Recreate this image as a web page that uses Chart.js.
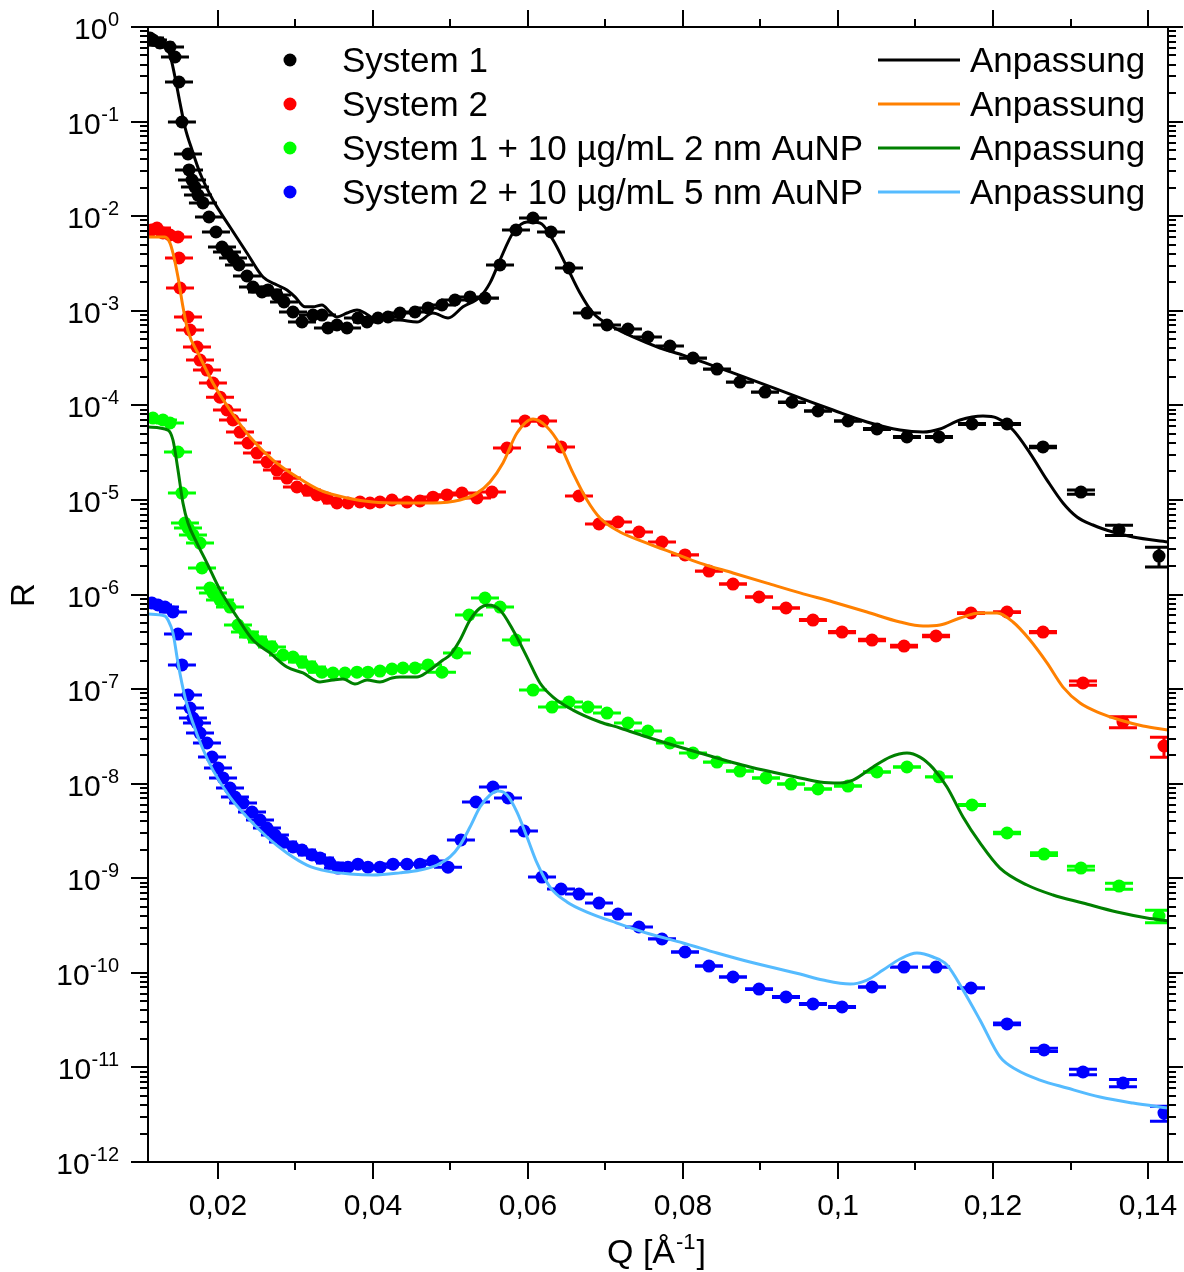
<!DOCTYPE html>
<html>
<head>
<meta charset="utf-8">
<script src="https://cdn.jsdelivr.net/npm/chart.js@4.4.1/dist/chart.umd.min.js"></script>
<style>
  html, body { margin: 0; padding: 0; background: #fff; }
  #wrap { width: 1184px; height: 1272px; position: relative; }
</style>
</head>
<body>
<div id="wrap"><canvas id="chartR"></canvas></div>
<script>
// measured reflectivity [Q, R]
const sys1 = [
  [0.01123, 0.765], [0.01161, 0.73], [0.01252, 0.677], [0.01381, 0.614], [0.01445, 0.482],
  [0.01497, 0.262], [0.01535, 0.099], [0.01613, 0.0454], [0.01626, 0.0308], [0.01665, 0.0241],
  [0.01703, 0.0203], [0.01742, 0.0167], [0.01806, 0.0138], [0.01884, 0.0098], [0.01974, 0.0068],
  [0.02052, 0.00472], [0.02116, 0.00418], [0.02194, 0.00361], [0.02271, 0.00305], [0.02374, 0.00233],
  [0.02452, 0.00178], [0.02568, 0.00158], [0.02645, 0.00166], [0.02761, 0.00147], [0.02852, 0.00124],
  [0.02968, 0.00097], [0.03084, 0.00076], [0.03226, 0.0009], [0.03342, 0.0009], [0.03419, 0.000657],
  [0.03535, 0.000707], [0.03665, 0.000657], [0.03806, 0.000838], [0.03923, 0.00076], [0.04065, 0.000838],
  [0.04194, 0.000859], [0.04348, 0.000946], [0.04542, 0.00097], [0.0471, 0.00107], [0.0489, 0.00115],
  [0.05058, 0.0013], [0.05252, 0.0014], [0.05445, 0.00136], [0.05639, 0.00305], [0.05845, 0.00714],
  [0.06065, 0.00956], [0.06297, 0.0068], [0.06529, 0.00283], [0.06761, 0.000946], [0.07019, 0.000707],
  [0.0729, 0.000641], [0.07548, 0.000528], [0.07832, 0.000424], [0.08129, 0.000316], [0.08439, 0.000242],
  [0.08735, 0.000176], [0.09058, 0.000138], [0.09406, 0.000108], [0.09742, 8.71e-5], [0.10129, 6.83e-5],
  [0.10503, 5.62e-5], [0.1089, 4.63e-5], [0.11303, 4.63e-5], [0.11729, 6.35e-5], [0.12181, 6.35e-5],
  [0.12645, 3.63e-5], [0.13135, 1.21e-5], [0.13626, 4.81e-6], [0.14142, 2.55e-6]
];
const sys2 = [
  [0.01148, 0.00714], [0.01213, 0.0075], [0.0129, 0.00664], [0.01381, 0.00632], [0.01484, 0.00602],
  [0.01497, 0.00361], [0.0151, 0.00174], [0.01613, 0.000859], [0.01639, 0.000626], [0.01729, 0.000414],
  [0.01768, 0.000301], [0.01858, 0.000236], [0.01935, 0.000172], [0.02026, 0.000122], [0.02116, 8.92e-5],
  [0.02194, 7.0e-5], [0.02284, 5.22e-5], [0.02387, 4.0e-5], [0.02503, 3.13e-5], [0.02632, 2.52e-5],
  [0.02761, 2.07e-5], [0.0289, 1.70e-5], [0.03019, 1.37e-5], [0.03148, 1.27e-5], [0.03277, 1.13e-5],
  [0.03406, 1.05e-5], [0.03535, 9.28e-6], [0.03677, 9.28e-6], [0.03832, 9.5e-6], [0.03961, 9.28e-6],
  [0.0409, 9.5e-6], [0.04245, 9.98e-6], [0.04439, 9.5e-6], [0.04606, 9.74e-6], [0.04774, 1.07e-5],
  [0.04955, 1.13e-5], [0.05148, 1.18e-5], [0.05342, 1.05e-5], [0.05535, 1.21e-5], [0.05729, 3.54e-5],
  [0.05961, 6.83e-5], [0.06194, 6.83e-5], [0.06426, 3.63e-5], [0.06658, 1.10e-5], [0.06916, 5.56e-6],
  [0.07161, 5.84e-6], [0.07432, 4.58e-6], [0.07729, 3.59e-6], [0.08026, 2.62e-6], [0.08335, 1.77e-6],
  [0.08645, 1.29e-6], [0.08981, 9.41e-7], [0.09329, 7.20e-7], [0.09677, 5.37e-7], [0.10052, 4.01e-7],
  [0.10439, 3.30e-7], [0.10852, 2.85e-7], [0.11265, 3.64e-7], [0.11716, 6.37e-7], [0.12181, 6.53e-7],
  [0.12645, 4.01e-7], [0.13161, 1.16e-7], [0.13677, 4.49e-8], [0.14206, 2.50e-8]
];
const sys1Au = [
  [0.01161, 7.34e-5], [0.0129, 7.0e-5], [0.01381, 6.50e-5], [0.01484, 3.21e-5], [0.01535, 1.18e-5],
  [0.01574, 5.70e-6], [0.01613, 5.05e-6], [0.01677, 4.26e-6], [0.01768, 3.50e-6], [0.01794, 1.91e-6],
  [0.01897, 1.17e-6], [0.01935, 1.04e-6], [0.02026, 8.74e-7], [0.02155, 7.37e-7], [0.02258, 4.76e-7],
  [0.02348, 4.01e-7], [0.02452, 3.55e-7], [0.02568, 3.15e-7], [0.02697, 2.78e-7], [0.02839, 2.29e-7],
  [0.02968, 2.18e-7], [0.03084, 1.93e-7], [0.03213, 1.71e-7], [0.03342, 1.51e-7], [0.03484, 1.48e-7],
  [0.03639, 1.48e-7], [0.03794, 1.51e-7], [0.03935, 1.51e-7], [0.0409, 1.55e-7], [0.04245, 1.63e-7],
  [0.04387, 1.67e-7], [0.04542, 1.67e-7], [0.0471, 1.80e-7], [0.0489, 1.51e-7], [0.05084, 2.41e-7],
  [0.05239, 6.07e-7], [0.05445, 9.18e-7], [0.05639, 7.37e-7], [0.05845, 3.30e-7], [0.06065, 9.77e-8],
  [0.0631, 6.46e-8], [0.06529, 7.30e-8], [0.06774, 6.46e-8], [0.07019, 5.58e-8], [0.0729, 4.38e-8],
  [0.07548, 3.60e-8], [0.07832, 2.69e-8], [0.08129, 2.11e-8], [0.08439, 1.69e-8], [0.08735, 1.36e-8],
  [0.09071, 1.15e-8], [0.09394, 9.91e-9], [0.09742, 8.78e-9], [0.10129, 9.44e-9], [0.10503, 1.33e-8],
  [0.1089, 1.50e-8], [0.11303, 1.18e-8], [0.11729, 5.95e-9], [0.12181, 3.01e-9], [0.12658, 1.80e-9],
  [0.13135, 1.28e-9], [0.13626, 8.27e-10], [0.14142, 3.99e-10]
];
const sys2Au = [
  [0.01148, 8.13e-7], [0.01226, 7.74e-7], [0.01316, 7.37e-7], [0.01419, 6.53e-7], [0.01484, 3.82e-7],
  [0.01535, 1.80e-7], [0.01613, 8.65e-8], [0.01639, 6.31e-8], [0.01677, 4.94e-8], [0.01729, 4.38e-8],
  [0.01768, 3.43e-8], [0.01858, 2.69e-8], [0.01923, 1.91e-8], [0.02, 1.46e-8], [0.02065, 1.15e-8],
  [0.02155, 8.99e-9], [0.02219, 7.22e-9], [0.02323, 6.24e-9], [0.02439, 5.01e-9], [0.02542, 4.13e-9],
  [0.02632, 3.40e-9], [0.02735, 2.86e-9], [0.02839, 2.42e-9], [0.02968, 2.14e-9], [0.03084, 1.99e-9],
  [0.03213, 1.76e-9], [0.03316, 1.64e-9], [0.03445, 1.45e-9], [0.03548, 1.28e-9], [0.03677, 1.31e-9],
  [0.03806, 1.41e-9], [0.03935, 1.31e-9], [0.0409, 1.31e-9], [0.04258, 1.41e-9], [0.04439, 1.41e-9],
  [0.04606, 1.41e-9], [0.04774, 1.52e-9], [0.04968, 1.31e-9], [0.05135, 2.54e-9], [0.05329, 6.40e-9],
  [0.05548, 9.21e-9], [0.05742, 7.05e-9], [0.05948, 3.16e-9], [0.06181, 1.03e-9], [0.06426, 7.69e-10],
  [0.06658, 6.81e-10], [0.06916, 5.47e-10], [0.07161, 4.18e-10], [0.07432, 3.05e-10], [0.07729, 2.28e-10],
  [0.08026, 1.66e-10], [0.08335, 1.18e-10], [0.08645, 9.03e-11], [0.08981, 6.74e-11], [0.09329, 5.55e-11],
  [0.09677, 4.68e-11], [0.10052, 4.35e-11], [0.10439, 7.08e-11], [0.10852, 1.15e-10], [0.11265, 1.15e-10],
  [0.11716, 6.91e-11], [0.12181, 2.88e-11], [0.12658, 1.53e-11], [0.13161, 8.94e-12], [0.13677, 6.84e-12],
  [0.14206, 3.29e-12]
];
// absolute error of R, one per series
const errR = [6e-7, 6e-9, 6e-11, 6e-13];

// fitted curves [Q, R]
const fit1 = [
  [0.01097, 0.645], [0.01316, 0.614], [0.01381, 0.506], [0.01445, 0.296], [0.0151, 0.157],
  [0.01574, 0.0876], [0.01665, 0.0501], [0.01768, 0.0286], [0.01935, 0.0148], [0.02155, 0.00768],
  [0.02374, 0.00408], [0.02581, 0.00227], [0.02761, 0.00187], [0.0289, 0.00166], [0.02994, 0.0014],
  [0.03123, 0.0011], [0.03226, 0.0011], [0.03342, 0.00115], [0.03445, 0.00097], [0.03535, 0.000859],
  [0.03665, 0.000946], [0.03794, 0.00102], [0.03897, 0.000946], [0.04, 0.000838], [0.04348, 0.000798],
  [0.04568, 0.00076], [0.04774, 0.000946], [0.04968, 0.000838], [0.05161, 0.0011], [0.05381, 0.0014],
  [0.0551, 0.00197], [0.05639, 0.00344], [0.05806, 0.00664], [0.05987, 0.00868], [0.06155, 0.00847],
  [0.06323, 0.0056], [0.06503, 0.0029], [0.06671, 0.00154], [0.06839, 0.000946], [0.07097, 0.000673],
  [0.07355, 0.000528], [0.07703, 0.000404], [0.08, 0.00034], [0.08645, 0.00022], [0.0951, 0.00012],
  [0.09935, 8.92e-5], [0.10374, 6.66e-5], [0.108, 5.48e-5], [0.11097, 5.22e-5], [0.11316, 5.62e-5],
  [0.11574, 7.0e-5], [0.11871, 7.71e-5], [0.12052, 7.34e-5], [0.12258, 5.48e-5], [0.12477, 3.13e-5],
  [0.12697, 1.62e-5], [0.12903, 9.28e-6], [0.13084, 6.6e-6], [0.1329, 5.43e-6], [0.13548, 4.58e-6],
  [0.13806, 4.05e-6], [0.14258, 3.59e-6]
];
const fit2 = [
  [0.01097, 6.02e-3], [0.01316, 6.02e-3], [0.01381, 5.20e-3], [0.01419, 4.08e-3], [0.01484, 2.27e-3],
  [0.01548, 1.10e-3], [0.01613, 6.1e-4], [0.01768, 3.24e-4], [0.01935, 1.72e-4], [0.02155, 8.92e-5],
  [0.02413, 4.63e-5], [0.0271, 2.64e-5], [0.03019, 1.75e-5], [0.03316, 1.27e-5], [0.03665, 1.05e-5],
  [0.04, 9.5e-6], [0.04348, 9.28e-6], [0.04774, 9.28e-6], [0.05123, 9.98e-6], [0.05342, 1.18e-5],
  [0.0551, 1.55e-5], [0.05677, 2.46e-5], [0.05858, 5.10e-5], [0.06065, 7.17e-5], [0.06245, 5.90e-5],
  [0.06413, 3.81e-5], [0.06581, 1.92e-5], [0.06761, 9.98e-6], [0.06929, 6.44e-6], [0.07187, 4.58e-6],
  [0.07535, 3.50e-6], [0.07871, 2.75e-6], [0.08219, 2.15e-6], [0.08645, 1.69e-6], [0.09084, 1.32e-6],
  [0.0951, 1.04e-6], [0.09935, 8.33e-7], [0.10374, 6.53e-7], [0.108, 5.12e-7], [0.11097, 4.64e-7],
  [0.11316, 4.76e-7], [0.11574, 5.64e-7], [0.11832, 6.37e-7], [0.12052, 6.37e-7], [0.12258, 5.12e-7],
  [0.12477, 3.30e-7], [0.12697, 1.89e-7], [0.12903, 1.05e-7], [0.13123, 7.12e-8], [0.13381, 5.58e-8],
  [0.13639, 4.71e-8], [0.13935, 4.07e-8], [0.14258, 3.7e-8]
];
const fit3 = [
  [0.01097, 5.90e-5], [0.01355, 5.48e-5], [0.01419, 4.30e-5], [0.01484, 2.07e-5], [0.01548, 9.28e-6],
  [0.01613, 5.70e-6], [0.01729, 3.50e-6], [0.01858, 2.15e-6], [0.02026, 1.12e-6], [0.02245, 5.78e-7],
  [0.02452, 3.30e-7], [0.02671, 2.41e-7], [0.0289, 1.71e-7], [0.03097, 1.48e-7], [0.03316, 1.19e-7],
  [0.03484, 1.25e-7], [0.03613, 1.28e-7], [0.03768, 1.13e-7], [0.03923, 1.25e-7], [0.0409, 1.19e-7],
  [0.04245, 1.31e-7], [0.04348, 1.34e-7], [0.04568, 1.34e-7], [0.04697, 1.51e-7], [0.04903, 2.03e-7],
  [0.04994, 2.29e-7], [0.05123, 3.30e-7], [0.05252, 5.37e-7], [0.05381, 7.20e-7], [0.05484, 7.74e-7],
  [0.05639, 6.85e-7], [0.05806, 4.21e-7], [0.05987, 2.18e-7], [0.06155, 1.16e-7], [0.06323, 8.24e-8],
  [0.06581, 6.00e-8], [0.06929, 4.49e-8], [0.07187, 3.88e-8], [0.07574, 3.04e-8], [0.08219, 2.11e-8],
  [0.08865, 1.50e-8], [0.0951, 1.15e-8], [0.09768, 1.04e-8], [0.10026, 1.016e-8], [0.10194, 1.09e-8],
  [0.10452, 1.50e-8], [0.10671, 1.91e-8], [0.1089, 2.11e-8], [0.11058, 1.91e-8], [0.11226, 1.46e-8],
  [0.11406, 9.21e-9], [0.11613, 4.44e-9], [0.11832, 2.36e-9], [0.1209, 1.28e-9], [0.12439, 8.48e-10],
  [0.12774, 6.65e-10], [0.13161, 5.47e-10], [0.136, 4.39e-10], [0.13987, 3.80e-10], [0.14258, 3.55e-10]
];
const fit4 = [
  [0.01097, 6.22e-7], [0.01316, 5.92e-7], [0.01355, 5.37e-7], [0.01419, 3.92e-7], [0.01484, 1.89e-7],
  [0.01574, 8.24e-8], [0.01677, 4.38e-8], [0.01794, 2.44e-8], [0.01935, 1.39e-8], [0.02155, 7.22e-9],
  [0.02374, 4.44e-9], [0.02632, 2.73e-9], [0.0289, 1.85e-9], [0.03148, 1.38e-9], [0.03406, 1.19e-9],
  [0.03703, 1.11e-9], [0.04, 1.08e-9], [0.04348, 1.14e-9], [0.04606, 1.22e-9], [0.04826, 1.38e-9],
  [0.04994, 1.68e-9], [0.05123, 2.24e-9], [0.05252, 3.48e-9], [0.05381, 5.66e-9], [0.0551, 7.59e-9],
  [0.05613, 8.36e-9], [0.05729, 7.59e-9], [0.05858, 5.01e-9], [0.05987, 2.73e-9], [0.06116, 1.45e-9],
  [0.06284, 8.07e-10], [0.06503, 5.61e-10], [0.06761, 4.39e-10], [0.07148, 3.36e-10], [0.07574, 2.57e-10],
  [0.08, 2.07e-10], [0.08439, 1.62e-10], [0.08865, 1.30e-10], [0.0951, 9.71e-11], [0.09806, 8.39e-11],
  [0.10155, 7.61e-11], [0.10374, 8.39e-11], [0.10581, 1.07e-10], [0.108, 1.40e-10], [0.11019, 1.62e-10],
  [0.11226, 1.47e-10], [0.11406, 1.21e-10], [0.11613, 6.58e-11], [0.11832, 3.17e-11], [0.1209, 1.29e-11],
  [0.1231, 9.38e-12], [0.12606, 7.35e-12], [0.12955, 6.05e-12], [0.13381, 4.86e-12], [0.13806, 4.20e-12],
  [0.14258, 3.72e-12]
];

const seriesNames = ['System 1', 'System 2', 'System 1 + 10 µg/mL 2 nm AuNP', 'System 2 + 10 µg/mL 5 nm AuNP'];
const fitName = 'Anpassung';
const xMajor = [0.02, 0.04, 0.06, 0.08, 0.1, 0.12, 0.14];
const xMajorLabels = ['0,02', '0,04', '0,06', '0,08', '0,1', '0,12', '0,14'];
const xMinor = [0.03, 0.05, 0.07, 0.09, 0.11, 0.13];
const yExponents = [0, -1, -2, -3, -4, -5, -6, -7, -8, -9, -10, -11, -12];

const pointColors = ['#000000', '#ff0000', '#00ff00', '#0000ff'];
const fitColors = ['#000000', '#ff8000', '#008000', '#55bbff'];
const FONT = '"Liberation Sans", Arial, sans-serif';

const toXY = arr => arr.map(p => ({ x: p[0], y: p[1] }));
const measured = [sys1, sys2, sys1Au, sys2Au];
const fits = [fit1, fit2, fit3, fit4];

const datasets = [];
fits.forEach((f, i) => datasets.push({
  label: fitName, data: toXY(f), showLine: true, pointRadius: 0,
  borderColor: fitColors[i], borderWidth: 3, cubicInterpolationMode: 'monotone', order: 0
}));
measured.forEach((m, i) => datasets.push({
  label: seriesNames[i], data: toXY(m), showLine: false, pointRadius: 6.5, pointBorderWidth: 0,
  backgroundColor: pointColors[i], borderColor: pointColors[i], errR: errR[i], order: 1
}));

// y error bars with wide caps (drawn under the markers)
const errorBars = {
  id: 'errorBars',
  beforeDatasetsDraw(chart) {
    const { ctx, chartArea: a, scales: { x, y } } = chart;
    ctx.save();
    ctx.beginPath();
    ctx.rect(a.left, a.top, a.right - a.left, a.bottom - a.top);
    ctx.clip();
    ctx.lineWidth = 3;
    chart.data.datasets.forEach(ds => {
      if (ds.errR === undefined) return;
      ctx.strokeStyle = ds.borderColor;
      ds.data.forEach(p => {
        const px = x.getPixelForValue(p.x);
        const y1 = y.getPixelForValue(p.y + ds.errR);
        const y2 = y.getPixelForValue(Math.max(p.y - ds.errR, 1e-15));
        ctx.beginPath();
        ctx.moveTo(px, y1); ctx.lineTo(px, y2);
        ctx.moveTo(px - 14, y1); ctx.lineTo(px + 14, y1);
        ctx.moveTo(px - 14, y2); ctx.lineTo(px + 14, y2);
        ctx.stroke();
      });
    });
    ctx.restore();
  }
};

// frame, ticks on four sides, labels, titles, legend
const frame = {
  id: 'frame',
  afterDraw(chart) {
    const { ctx, chartArea: a, scales: { x, y } } = chart;
    ctx.save();
    ctx.strokeStyle = '#000';
    ctx.fillStyle = '#000';
    ctx.lineWidth = 2;
    ctx.strokeRect(a.left, a.top, a.right - a.left, a.bottom - a.top);

    const seg = (x1, y1, x2, y2) => { ctx.beginPath(); ctx.moveTo(x1, y1); ctx.lineTo(x2, y2); ctx.stroke(); };

    xMajor.forEach(q => {
      const px = Math.round(x.getPixelForValue(q));
      seg(px, a.bottom, px, a.bottom + 17);
      seg(px, a.top, px, a.top - 17);
    });
    xMinor.forEach(q => {
      const px = Math.round(x.getPixelForValue(q));
      seg(px, a.bottom, px, a.bottom + 8);
      seg(px, a.top, px, a.top - 8);
    });
    yExponents.forEach(e => {
      const py = Math.round(y.getPixelForValue(Math.pow(10, e)));
      seg(a.left, py, a.left - 17, py);
      seg(a.right, py, a.right + 15, py);
      if (e < 0) {
        for (let m = 2; m <= 9; m++) {
          const pm = Math.round(y.getPixelForValue(m * Math.pow(10, e)));
          seg(a.left, pm, a.left - 8, pm);
          seg(a.right, pm, a.right + 8, pm);
        }
      }
    });

    // x tick labels
    ctx.font = '30px ' + FONT;
    ctx.textAlign = 'center';
    ctx.textBaseline = 'alphabetic';
    xMajor.forEach((q, i) => ctx.fillText(xMajorLabels[i], x.getPixelForValue(q), a.bottom + 53));

    // y tick labels 10^e
    const xr = 119;
    yExponents.forEach(e => {
      const py = y.getPixelForValue(Math.pow(10, e));
      const sup = e === 0 ? '0' : '-' + Math.abs(e);
      ctx.font = '20px ' + FONT;
      const w = ctx.measureText(sup).width;
      ctx.textAlign = 'left';
      ctx.fillText(sup, xr - w, py - 1);
      ctx.font = '30px ' + FONT;
      ctx.textAlign = 'right';
      ctx.fillText('10', xr - w - 0.5, py + 12);
    });

    // axis titles
    ctx.font = '34px ' + FONT;
    ctx.textAlign = 'left';
    let tx = 607;
    const ty = 1263;
    ctx.fillText('Q [Å', tx, ty);
    tx += ctx.measureText('Q [Å').width;
    ctx.font = '22px ' + FONT;
    ctx.fillText('-1', tx + 1, ty - 14);
    tx += ctx.measureText('-1').width + 2;
    ctx.font = '34px ' + FONT;
    ctx.fillText(']', tx, ty);

    ctx.save();
    ctx.translate(34, 595);
    ctx.rotate(-Math.PI / 2);
    ctx.font = '33px ' + FONT;
    ctx.textAlign = 'center';
    ctx.fillText('R', 0, 0);
    ctx.restore();

    // legend
    const rows = [60, 104, 148, 192];
    ctx.font = '35px ' + FONT;
    ctx.textAlign = 'left';
    rows.forEach((ry, i) => {
      ctx.fillStyle = pointColors[i];
      ctx.beginPath();
      ctx.arc(290, ry, 6.5, 0, Math.PI * 2);
      ctx.fill();
      ctx.fillStyle = '#000';
      ctx.fillText(seriesNames[i], 342, ry + 12);
      ctx.strokeStyle = fitColors[i];
      ctx.lineWidth = 3;
      seg(878, ry, 960, ry);
      ctx.fillText(fitName, 970, ry + 12);
    });
    ctx.restore();
  }
};

new Chart(document.getElementById('chartR'), {
  type: 'scatter',
  data: { datasets: datasets },
  options: {
    responsive: true,
    maintainAspectRatio: false,
    animation: false,
    layout: { padding: { left: 148, top: 27, right: 16, bottom: 110 } },
    scales: {
      x: { type: 'linear', display: false, min: 0.01097, max: 0.14258 },
      y: { type: 'logarithmic', display: false, min: 1e-12, max: 1 }
    },
    plugins: { legend: { display: false }, tooltip: { enabled: false } }
  },
  plugins: [errorBars, frame]
});
</script>
</body>
</html>
